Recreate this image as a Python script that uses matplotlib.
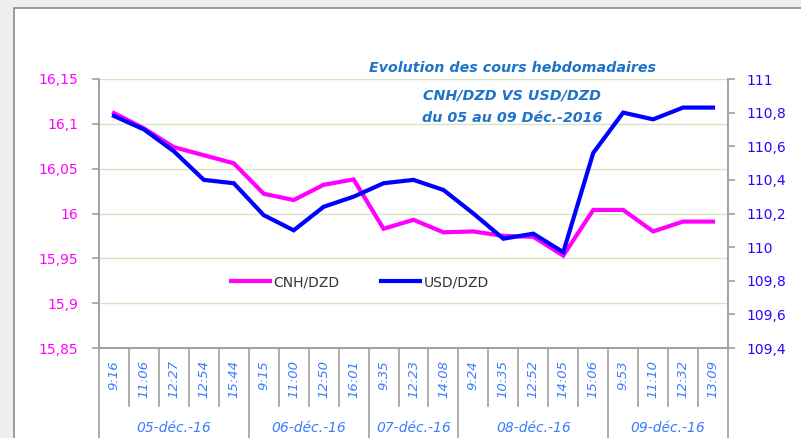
import numpy as np
import matplotlib.pyplot as plt
from matplotlib import transforms
from matplotlib.patches import Rectangle

# data
days = ['05-déc.-16', '06-déc.-16', '07-déc.-16', '08-déc.-16', '09-déc.-16']
hours = [['9:16', '11:06', '12:27', '12:54', '15:44'],
         ['9:15', '11:00', '12:50', '16:01'],
         ['9:35', '12:23', '14:08'],
         ['9:24', '10:35', '12:52', '14:05', '15:06'],
         ['9:53', '11:10', '12:32', '13:09']]
cnh_dzd = [16.112, 16.095, 16.074, 16.065, 16.056, 16.022, 16.015, 16.032, 16.038,
           15.983, 15.993, 15.979, 15.980, 15.975, 15.974, 15.953,
           16.004, 16.004, 15.980, 15.991, 15.991]
usd_dzd = [110.78, 110.70, 110.57, 110.40, 110.38, 110.19, 110.10, 110.24, 110.30,
           110.38, 110.40, 110.34, 110.20, 110.05, 110.08, 109.97,
           110.56, 110.80, 110.76, 110.83, 110.83]

labels = [h for grp in hours for h in grp]
x = np.arange(len(labels))

pink = '#ff00ff'
blue = '#0000ff'
gray = '#a0a0a0'

fig = plt.figure(figsize=(8.01, 4.38), dpi=100)
fig.patch.set_facecolor('#efefef')
# white chart area with gray border
fig.patches.append(Rectangle((14 / 801, -0.05), 1.0, (438 - 8) / 438 + 0.05,
                             transform=fig.transFigure, facecolor='white',
                             edgecolor='#8c8c8c', lw=1.2, zorder=-5))

ax = fig.add_axes([99 / 801, (438 - 348) / 438, (728 - 99) / 801, 269 / 438])
ax.set_facecolor('none')
ax2 = ax.twinx()

ax.plot(x, cnh_dzd, color=pink, lw=3, label='CNH/DZD', zorder=3, solid_joinstyle='miter')
ax2.plot(x, usd_dzd, color=blue, lw=3, label='USD/DZD', zorder=3, solid_joinstyle='miter')

ax.set_xlim(-0.5, len(labels) - 0.5)
ax.set_ylim(15.85, 16.15)
ax.set_yticks(np.arange(15.85, 16.151, 0.05))
ax.set_yticklabels(['15,85', '15,9', '15,95', '16', '16,05', '16,1', '16,15'],
                   color=pink, fontsize=10)
ax.yaxis.grid(True, color='#d7e4bd', lw=1)
ax.set_axisbelow(True)

ax2.set_ylim(109.4, 111)
ax2.set_yticks(np.arange(109.4, 111.01, 0.2))
ax2.set_yticklabels(['109,4', '109,6', '109,8', '110', '110,2', '110,4', '110,6', '110,8', '111'],
                    color='#3300ff', fontsize=10)

for a in (ax, ax2):
    a.spines['top'].set_visible(False)
    for s in ('left', 'right', 'bottom'):
        a.spines[s].set_color(gray)
        a.spines[s].set_linewidth(1.2)
    a.tick_params(axis='y', colors=gray, length=5, width=1.2, pad=8)
ax.tick_params(axis='y', labelcolor=pink, pad=10)
ax2.tick_params(axis='y', labelcolor='#3300ff')

ax.set_xticks(x)
ax.set_xticklabels(labels, rotation=90, fontsize=9.5, style='italic', color='#3a7bff')
ax.tick_params(axis='x', length=0, pad=9)

# separators under the axis
trans = transforms.blended_transform_factory(ax.transData, ax.transAxes)
bounds = np.cumsum([0] + [len(g) for g in hours]) - 0.5
for b in np.arange(-0.5, len(labels), 1.0):
    if b in bounds:
        ax.plot([b, b], [0, -0.4], transform=trans, color=gray, lw=1.2, clip_on=False)
    else:
        ax.plot([b, b], [0, -0.215], transform=trans, color=gray, lw=1.2, clip_on=False)
for i, d in enumerate(days):
    mid = (bounds[i] + bounds[i + 1]) / 2
    ax.text(mid, -0.298, d, transform=trans, ha='center', va='center',
            fontsize=10, style='italic', color='#3a7bff')

# legend
h1, l1 = ax.get_legend_handles_labels()
h2, l2 = ax2.get_legend_handles_labels()
ax.legend(h1 + h2, l1 + l2, loc='center', bbox_to_anchor=(0.415, 0.245), ncol=2,
          frameon=False, fontsize=10, handlelength=2.8, handletextpad=0.25,
          columnspacing=3.0, labelcolor='#333333')

# title
for txt, yy in [('Evolution des cours hebdomadaires', 1.04),
                ('CNH/DZD VS USD/DZD', 0.94),
                ('du 05 au 09 Déc.-2016', 0.855)]:
    ax.text(0.657, yy, txt, transform=ax.transAxes, ha='center', va='center',
            fontsize=10.3, weight='bold', style='italic', color='#1f73c8')

fig.savefig('out.png', dpi=100)
